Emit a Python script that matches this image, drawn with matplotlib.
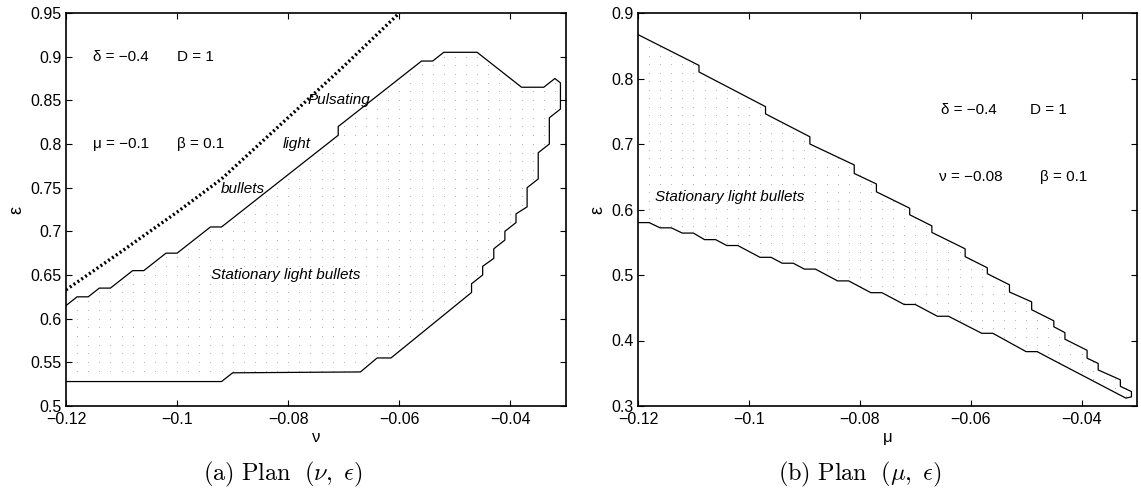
import numpy as np
import matplotlib
matplotlib.use("Agg")
import matplotlib.pyplot as plt
from matplotlib.path import Path
from matplotlib.ticker import FixedLocator, FuncFormatter

plt.rcParams['font.family'] = ['Liberation Sans', 'DejaVu Sans']
plt.rcParams['mathtext.fontset'] = 'cm'

# ---------------- data: panel (a) plane (nu, eps) ----------------
nu_boundary = [-0.120, -0.118, -0.116, -0.114, -0.112, -0.108, -0.106, -0.102, -0.100,
               -0.094, -0.092, -0.071, -0.071, -0.056, -0.054, -0.052, -0.046, -0.038,
               -0.034, -0.032, -0.031, -0.031, -0.033, -0.033, -0.035, -0.035, -0.037,
               -0.037, -0.039, -0.039, -0.041, -0.041, -0.043, -0.043, -0.045, -0.045,
               -0.047, -0.047, -0.0615, -0.064, -0.067, -0.090, -0.092, -0.120]
eps_boundary_nu = [0.615, 0.625, 0.625, 0.635, 0.635, 0.655, 0.655, 0.675, 0.675,
                   0.705, 0.705, 0.810, 0.820, 0.895, 0.895, 0.905, 0.905, 0.865,
                   0.865, 0.875, 0.870, 0.840, 0.830, 0.800, 0.790, 0.760, 0.750,
                   0.728, 0.720, 0.710, 0.700, 0.690, 0.680, 0.669, 0.660, 0.650,
                   0.640, 0.630, 0.555, 0.555, 0.539, 0.538, 0.528, 0.528]
nu_pulsating = [-0.120, -0.110, -0.100, -0.092, -0.085, -0.078, -0.070, -0.060]
eps_pulsating = [0.633, 0.677, 0.722, 0.760, 0.801, 0.842, 0.889, 0.950]

# ---------------- data: panel (b) plane (mu, eps) ----------------
mu_boundary = [-0.120, -0.109, -0.109, -0.097, -0.097, -0.089, -0.089, -0.081, -0.081,
               -0.077, -0.077, -0.071, -0.071, -0.067, -0.067, -0.061, -0.061, -0.057,
               -0.057, -0.053, -0.053, -0.049, -0.049, -0.045, -0.045, -0.043, -0.043,
               -0.039, -0.039, -0.037, -0.037, -0.033, -0.033, -0.031, -0.031, -0.032,
               -0.046, -0.048, -0.050, -0.056, -0.058, -0.064, -0.066, -0.070, -0.072,
               -0.076, -0.078, -0.082, -0.084, -0.088, -0.090, -0.092, -0.094, -0.096,
               -0.098, -0.102, -0.104, -0.106, -0.108, -0.110, -0.112, -0.114, -0.116,
               -0.118, -0.120]
eps_boundary_mu = [0.867, 0.820, 0.810, 0.757, 0.746, 0.711, 0.700, 0.668, 0.655,
                   0.639, 0.627, 0.602, 0.592, 0.575, 0.565, 0.540, 0.528, 0.511,
                   0.502, 0.485, 0.474, 0.459, 0.447, 0.430, 0.421, 0.412, 0.402,
                   0.385, 0.373, 0.365, 0.355, 0.340, 0.330, 0.322, 0.314, 0.312,
                   0.374, 0.383, 0.383, 0.411, 0.411, 0.437, 0.437, 0.455, 0.455,
                   0.473, 0.473, 0.491, 0.491, 0.509, 0.509, 0.518, 0.518, 0.527,
                   0.527, 0.545, 0.545, 0.554, 0.554, 0.564, 0.564, 0.572, 0.572,
                   0.580, 0.580]

x_ticks = [-0.12, -0.10, -0.08, -0.06, -0.04]
y_ticks_a = [0.5, 0.55, 0.6, 0.65, 0.7, 0.75, 0.8, 0.85, 0.9, 0.95]
y_ticks_b = [0.3, 0.4, 0.5, 0.6, 0.7, 0.8, 0.9]

W, H = 1141, 493
fig = plt.figure(figsize=(W / 100, H / 100), dpi=100)
ax1 = fig.add_axes([66 / W, 1 - 406 / H, 500 / W, 393 / H])
ax2 = fig.add_axes([638 / W, 1 - 406 / H, 499 / W, 393 / H])

fmt = FuncFormatter(lambda v, p: ('%g' % round(v, 4)).replace('-', '\u2212'))

def dot_texture(ax, xs, ys, dy, ylo, yhi):
    path = Path(np.column_stack([xs, ys]))
    gx, gy = np.meshgrid(np.arange(-0.118, -0.0295, 0.002), np.arange(ylo, yhi, dy))
    pts = np.column_stack([gx.ravel(), gy.ravel()])
    inside = path.contains_points(pts, radius=-1e-4)
    ax.plot(pts[inside, 0], pts[inside, 1], ls='none', marker=',', color='#b8b8b8',
            zorder=1)

def style(ax, yticks, ylim, xlabel, caption, cx):
    ax.set_xlim(-0.12, -0.03)
    ax.set_ylim(*ylim)
    ax.xaxis.set_major_locator(FixedLocator(x_ticks))
    ax.yaxis.set_major_locator(FixedLocator(yticks))
    ax.xaxis.set_major_formatter(fmt)
    ax.yaxis.set_major_formatter(fmt)
    ax.tick_params(direction='in', length=4, width=0.8, top=True, right=True,
                   labelsize=11.5, colors='black')
    ax.tick_params(axis='x', pad=4.5)
    ax.tick_params(axis='y', pad=3)
    for s in ax.spines.values():
        s.set_linewidth(1.2)
    ax.set_xlabel(xlabel, fontsize=12, labelpad=2)
    ax.set_ylabel('\u03b5', fontsize=13, labelpad=4)
    fig.text(cx / W, 1 - 480 / H, caption, fontsize=17.5, ha='center', va='baseline')

# ---- panel (a)
dot_texture(ax1, nu_boundary, eps_boundary_nu, 0.01, 0.539, 0.95)
ax1.plot(nu_boundary, eps_boundary_nu, color='black', lw=0.9, zorder=3)
ax1.plot(nu_pulsating, eps_pulsating, color='black', lw=2.4, ls=(0, (0.6, 0.8)),
         zorder=3, clip_on=True)
style(ax1, y_ticks_a, (0.5, 0.95), '\u03bd',
      r'$\mathrm{(a)\ Plan\ \ (}\nu\mathrm{,\ }\epsilon\mathrm{)}$', 283)
tk = dict(fontsize=11, va='center', ha='left')
ax1.text(-0.1152, 0.9, '\u03b4 = \u22120.4', **tk)
ax1.text(-0.1001, 0.9, 'D = 1', **tk)
ax1.text(-0.1152, 0.8, '\u03bc = \u22120.1', **tk)
ax1.text(-0.1001, 0.8, '\u03b2 = 0.1', **tk)
ax1.text(-0.0766, 0.85, 'Pulsating', style='italic', **tk)
ax1.text(-0.0810, 0.80, 'light', style='italic', **tk)
ax1.text(-0.0921, 0.749, 'bullets', style='italic', **tk)
ax1.text(-0.0939, 0.650, 'Stationary light bullets', style='italic', **tk)

# ---- panel (b)
dot_texture(ax2, mu_boundary, eps_boundary_mu, 0.013, 0.30, 0.90)
ax2.plot(mu_boundary, eps_boundary_mu, color='black', lw=0.9, zorder=3)
style(ax2, y_ticks_b, (0.3, 0.9), '\u03bc',
      r'$\mathrm{(b)\ Plan\ \ (}\mu\mathrm{,\ }\epsilon\mathrm{)}$', 860)
ax2.text(-0.0653, 0.752, '\u03b4 = \u22120.4', **tk)
ax2.text(-0.0493, 0.752, 'D = 1', **tk)
ax2.text(-0.0657, 0.650, '\u03bd = \u22120.08', **tk)
ax2.text(-0.0475, 0.650, '\u03b2 = 0.1', **tk)
ax2.text(-0.1170, 0.6195, 'Stationary light bullets', style='italic', **tk)

fig.savefig('out.png', dpi=100)
